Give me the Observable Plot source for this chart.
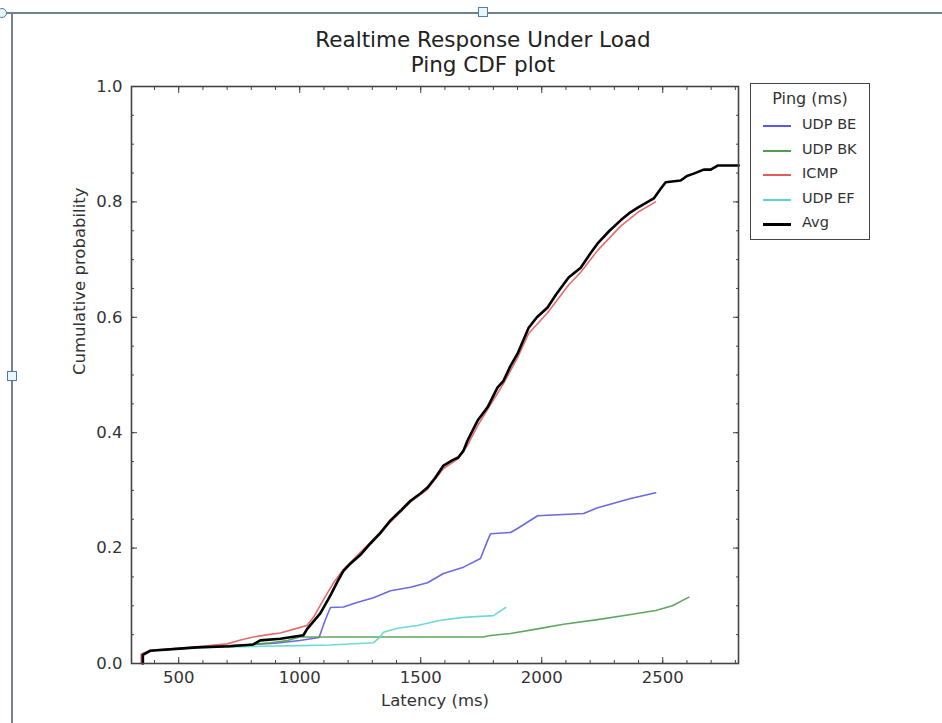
<!DOCTYPE html>
<html>
<head>
<meta charset="utf-8">
<script src="https://cdn.jsdelivr.net/npm/d3@7"></script>
<script src="https://cdn.jsdelivr.net/npm/@observablehq/plot@0.6"></script>
<style>
  body { margin: 0; background: #fff; font-family: "DejaVu Sans", sans-serif; }
  #wrap { position: relative; width: 942px; height: 723px; overflow: hidden; background: #fff; }
  #title { position: absolute; left: 0; top: 27px; width: 966px; text-align: center; font-size: 21.5px; line-height: 25px; color: #222; z-index: 2; }
  #chart { position: absolute; left: 0; top: 60px; z-index: 1; }
  #legend { position: absolute; left: 750px; top: 83px; width: 118px; height: 155px; border: 1.5px solid #444; background: #fff; color: #333; z-index: 3; }
  #legend .lt { position: absolute; left: 0; top: 5px; width: 118px; text-align: center; font-size: 16px; }
  #legend .row { position: absolute; left: 0; height: 20px; width: 118px; }
  #legend .sw { position: absolute; left: 12px; top: 9px; width: 28px; height: 0; }
  #legend .lb { position: absolute; left: 51px; top: 0px; font-size: 14.5px; }
  .deco { position: absolute; background: #6f8294; z-index: 5; }
  .handle { position: absolute; width: 8px; height: 8px; border: 1px solid #4f7ea6; background: #eaf6ff; z-index: 6; }
</style>
</head>
<body>
<div id="wrap">
  <div class="deco" style="left:0;top:12px;width:942px;height:1.5px;"></div>
  <div class="deco" style="left:11px;top:13px;width:1.5px;height:710px;"></div>
  <div class="handle" style="left:478px;top:7px;"></div>
  <div class="handle" style="left:7px;top:371px;"></div>
  <div class="handle" style="left:-3px;top:8px;border-radius:5px;"></div>
  <div id="title">Realtime Response Under Load<br>Ping CDF plot</div>
  <div id="chart"></div>
  <div id="legend"><div class="lt">Ping (ms)</div></div>
</div>
<script>
// ---- data (latency ms, cumulative probability) ----
const seriesNames = ["UDP BE", "UDP BK", "ICMP", "UDP EF", "Avg"];
const seriesColors = ["#5a5ae0", "#4e9e4e", "#e25c5c", "#5cd6d2", "#000000"];

const udpBeX = [348, 348, 382, 576, 808, 900, 1000, 1080, 1105, 1127, 1181, 1230, 1305, 1375, 1458, 1528, 1594, 1677, 1747, 1776, 1789, 1871, 1900, 1983, 2173, 2231, 2368, 2471];
const udpBeY = [0, 0.016, 0.022, 0.028, 0.033, 0.035, 0.04, 0.045, 0.075, 0.097, 0.098, 0.105, 0.114, 0.126, 0.132, 0.14, 0.156, 0.167, 0.182, 0.213, 0.225, 0.227, 0.234, 0.256, 0.26, 0.27, 0.286, 0.296];

const udpBkX = [350, 350, 382, 576, 808, 880, 950, 1000, 1760, 1780, 1871, 1983, 2090, 2231, 2368, 2471, 2540, 2608];
const udpBkY = [0, 0.016, 0.022, 0.028, 0.033, 0.036, 0.04, 0.046, 0.046, 0.048, 0.052, 0.06, 0.068, 0.076, 0.085, 0.092, 0.1, 0.115];

const icmpX = [345, 345, 382, 576, 700, 760, 808, 870, 920, 980, 1030, 1060, 1100, 1140, 1180, 1209, 1292, 1333, 1375, 1458, 1528, 1594, 1655, 1693, 1735, 1776, 1842, 1900, 1946, 2024, 2111, 2161, 2231, 2326, 2397, 2470];
const icmpY = [0, 0.016, 0.023, 0.029, 0.034, 0.041, 0.046, 0.05, 0.053, 0.06, 0.066, 0.082, 0.112, 0.14, 0.163, 0.175, 0.21, 0.228, 0.245, 0.28, 0.302, 0.338, 0.355, 0.378, 0.412, 0.44, 0.485, 0.53, 0.572, 0.608, 0.656, 0.678, 0.716, 0.758, 0.782, 0.8];

const udpEfX = [352, 352, 382, 576, 760, 850, 1000, 1127, 1305, 1330, 1346, 1404, 1487, 1582, 1677, 1801, 1851];
const udpEfY = [0, 0.016, 0.022, 0.028, 0.029, 0.03, 0.031, 0.032, 0.036, 0.045, 0.054, 0.061, 0.066, 0.075, 0.08, 0.083, 0.097];

const avgX = [352, 352, 382, 576, 713, 808, 837, 920, 1015, 1031, 1085, 1127, 1156, 1180, 1209, 1250, 1292, 1333, 1375, 1420, 1458, 1500, 1528, 1560, 1594, 1630, 1655, 1677, 1693, 1735, 1776, 1817, 1842, 1870, 1900, 1946, 1980, 2024, 2060, 2111, 2161, 2200, 2231, 2280, 2326, 2360, 2397, 2463, 2490, 2512, 2574, 2600, 2628, 2669, 2698, 2727, 2814];
const avgY = [0, 0.015, 0.022, 0.028, 0.03, 0.033, 0.04, 0.043, 0.049, 0.06, 0.087, 0.118, 0.142, 0.16, 0.173, 0.188, 0.208, 0.226, 0.248, 0.266, 0.282, 0.295, 0.305, 0.322, 0.343, 0.352, 0.357, 0.369, 0.386, 0.421, 0.444, 0.478, 0.49, 0.515, 0.537, 0.582, 0.6, 0.617, 0.64, 0.669, 0.686, 0.71, 0.728, 0.75, 0.768, 0.78, 0.79, 0.806, 0.822, 0.834, 0.837, 0.845, 0.849, 0.856, 0.856, 0.863, 0.863];

const xMajorTicks = [500, 1000, 1500, 2000, 2500];
const xMinorTicks = [400, 500, 600, 700, 800, 900, 1000, 1100, 1200, 1300, 1400, 1500, 1600, 1700, 1800, 1900, 2000, 2100, 2200, 2300, 2400, 2500, 2600, 2700, 2800];
const yMajorTicks = [0, 0.2, 0.4, 0.6, 0.8, 1.0];
const yMinorTicks = [0, 0.05, 0.1, 0.15, 0.2, 0.25, 0.3, 0.35, 0.4, 0.45, 0.5, 0.55, 0.6, 0.65, 0.7, 0.75, 0.8, 0.85, 0.9, 0.95, 1.0];
const xDomain = [305, 2813];
const yDomain = [0, 1];

// ---- build tables ----
const toRows = (xs, ys) => xs.map((x, i) => ({x, y: ys[i]}));
const series = [
  {name: "UDP BE", rows: toRows(udpBeX, udpBeY)},
  {name: "UDP BK", rows: toRows(udpBkX, udpBkY)},
  {name: "UDP EF", rows: toRows(udpEfX, udpEfY)},
  {name: "ICMP", rows: toRows(icmpX, icmpY)},
  {name: "Avg", rows: toRows(avgX, avgY)}
];
const colorOf = n => seriesColors[seriesNames.indexOf(n)];

const axisColor = "#444";
const textColor = "#333";

const chart = Plot.plot({
  width: 942,
  height: 663,
  marginLeft: 131,
  marginRight: 204,
  marginTop: 26,
  marginBottom: 60,
  style: {fontFamily: "DejaVu Sans, sans-serif", fontSize: "15px", color: textColor, background: "transparent"},
  x: {domain: xDomain},
  y: {domain: yDomain},
  marks: [
    ...series.map(s => Plot.line(s.rows, {
      x: "x", y: "y",
      stroke: colorOf(s.name),
      strokeWidth: s.name === "Avg" ? 2.6 : 1.6,
      strokeOpacity: s.name === "Avg" ? 1 : 0.9
    })),
    Plot.frame({stroke: axisColor, strokeWidth: 1.6}),
    // inward ticks on all four sides
    Plot.axisX({anchor: "bottom", ticks: xMajorTicks, tickSize: -6, fill: "none", stroke: axisColor, label: null}),
    Plot.axisX({anchor: "bottom", ticks: xMinorTicks, tickSize: -3, fill: "none", stroke: axisColor, label: null}),
    Plot.axisX({anchor: "top", ticks: xMajorTicks, tickSize: -6, fill: "none", stroke: axisColor, label: null}),
    Plot.axisX({anchor: "top", ticks: xMinorTicks, tickSize: -3, fill: "none", stroke: axisColor, label: null}),
    Plot.axisY({anchor: "left", ticks: yMajorTicks, tickSize: -6, fill: "none", stroke: axisColor, label: null}),
    Plot.axisY({anchor: "left", ticks: yMinorTicks, tickSize: -3, fill: "none", stroke: axisColor, label: null}),
    Plot.axisY({anchor: "right", ticks: yMajorTicks, tickSize: -6, fill: "none", stroke: axisColor, label: null}),
    Plot.axisY({anchor: "right", ticks: yMinorTicks, tickSize: -3, fill: "none", stroke: axisColor, label: null}),
    // tick labels
    Plot.axisX({anchor: "bottom", ticks: xMajorTicks, tickSize: 0, tickPadding: 8, tickFormat: d3.format("d"), label: null, fill: textColor, fontSize: 16.5}),
    Plot.axisY({anchor: "left", ticks: yMajorTicks, tickSize: 0, tickPadding: 9, tickFormat: d3.format(".1f"), label: null, fill: textColor, fontSize: 16.5}),
    // axis titles
    Plot.text(["Latency (ms)"], {text: d => d, frameAnchor: "bottom", dy: 42, fill: textColor, fontSize: 16.5}),
    Plot.text(["Cumulative probability"], {text: d => d, frameAnchor: "left", rotate: -90, dx: -52, fill: textColor, fontSize: 16.5})
  ]
});
document.getElementById("chart").appendChild(chart);

// legend
const legend = document.getElementById("legend");
const legendOrder = ["UDP BE", "UDP BK", "ICMP", "UDP EF", "Avg"];
legendOrder.forEach((n, i) => {
  const row = document.createElement("div");
  row.className = "row";
  row.style.top = (32 + i * 24.5) + "px";
  const sw = document.createElement("div");
  sw.className = "sw";
  sw.style.borderTop = (n === "Avg" ? 3 : 2) + "px solid " + colorOf(n);
  const lb = document.createElement("div");
  lb.className = "lb";
  lb.textContent = n;
  row.appendChild(sw);
  row.appendChild(lb);
  legend.appendChild(row);
});
</script>
</body>
</html>
